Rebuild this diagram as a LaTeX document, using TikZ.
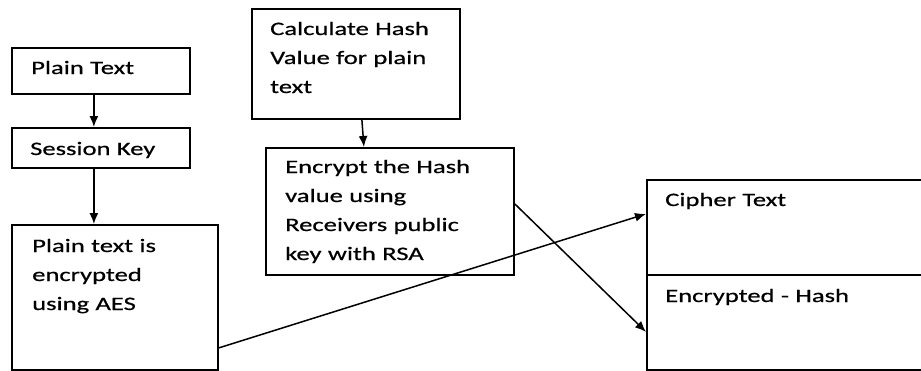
\documentclass[tikz,border=0pt]{standalone}
\usepackage{fontspec}
\setmainfont{Carlito}[FakeStretch=1.40,FakeBold=0.6]
\usetikzlibrary{arrows.meta}
\begin{document}
\begin{tikzpicture}[x=1pt,y=-1pt,
  box/.style={draw=black,line width=1.8pt,rectangle,inner sep=0pt,anchor=north west},
  lbl/.style={anchor=base west,inner sep=0pt,align=left,text width=240pt,font=\fontsize{19}{29}\selectfont},
  conn/.style={line width=1.5pt,-{Latex[length=11pt,width=9pt]}}]
\useasboundingbox (0,0) rectangle (921,370);
% boxes
\node[box,minimum width=178pt,minimum height=46pt] (pt) at (11,47) {};
\node[box,minimum width=178pt,minimum height=40pt] (sk) at (11,127) {};
\node[box,minimum width=206pt,minimum height=145pt] (aes) at (11,224) {};
\node[box,minimum width=208pt,minimum height=110pt] (hash) at (251,8) {};
\node[box,minimum width=248pt,minimum height=127pt] (enc) at (265,147) {};
\node[box,minimum width=280pt,minimum height=95pt] (ct) at (646,179) {};
\node[box,minimum width=280pt,minimum height=95pt] (eh) at (646,274) {};
% texts
\node[lbl] (ptt) at (31,74) {Plain Text};
\node[lbl] (skt) at (30,155) {Session Key};
\node[lbl] (aest) at (32,252) {Plain text is\\encrypted\\using AES};
\node[lbl] (hasht) at (270,35) {Calculate Hash\\Value for plain\\text};
\node[lbl] (enct) at (285,173) {Encrypt the Hash\\value using\\Receivers public\\key with RSA};
\node[lbl] (ctt) at (665,206) {Cipher Text};
\node[lbl] (eht) at (665,302) {Encrypted - Hash};
% connectors
\draw[conn] ([xshift=-7pt]pt.south) -- ([xshift=-7pt]sk.north);
\draw[conn] ([xshift=-7pt]sk.south) -- ([xshift=-21pt]aes.north);
\draw[conn] ([xshift=6pt]hash.south) -- ([xshift=-26pt]enc.north);
\draw[conn] ([yshift=-50.5pt]aes.east) -- ([yshift=13.5pt]ct.west);
\draw[conn] ([yshift=7.5pt]enc.east) -- ([yshift=-9.5pt]eh.west);
\end{tikzpicture}
\end{document}
